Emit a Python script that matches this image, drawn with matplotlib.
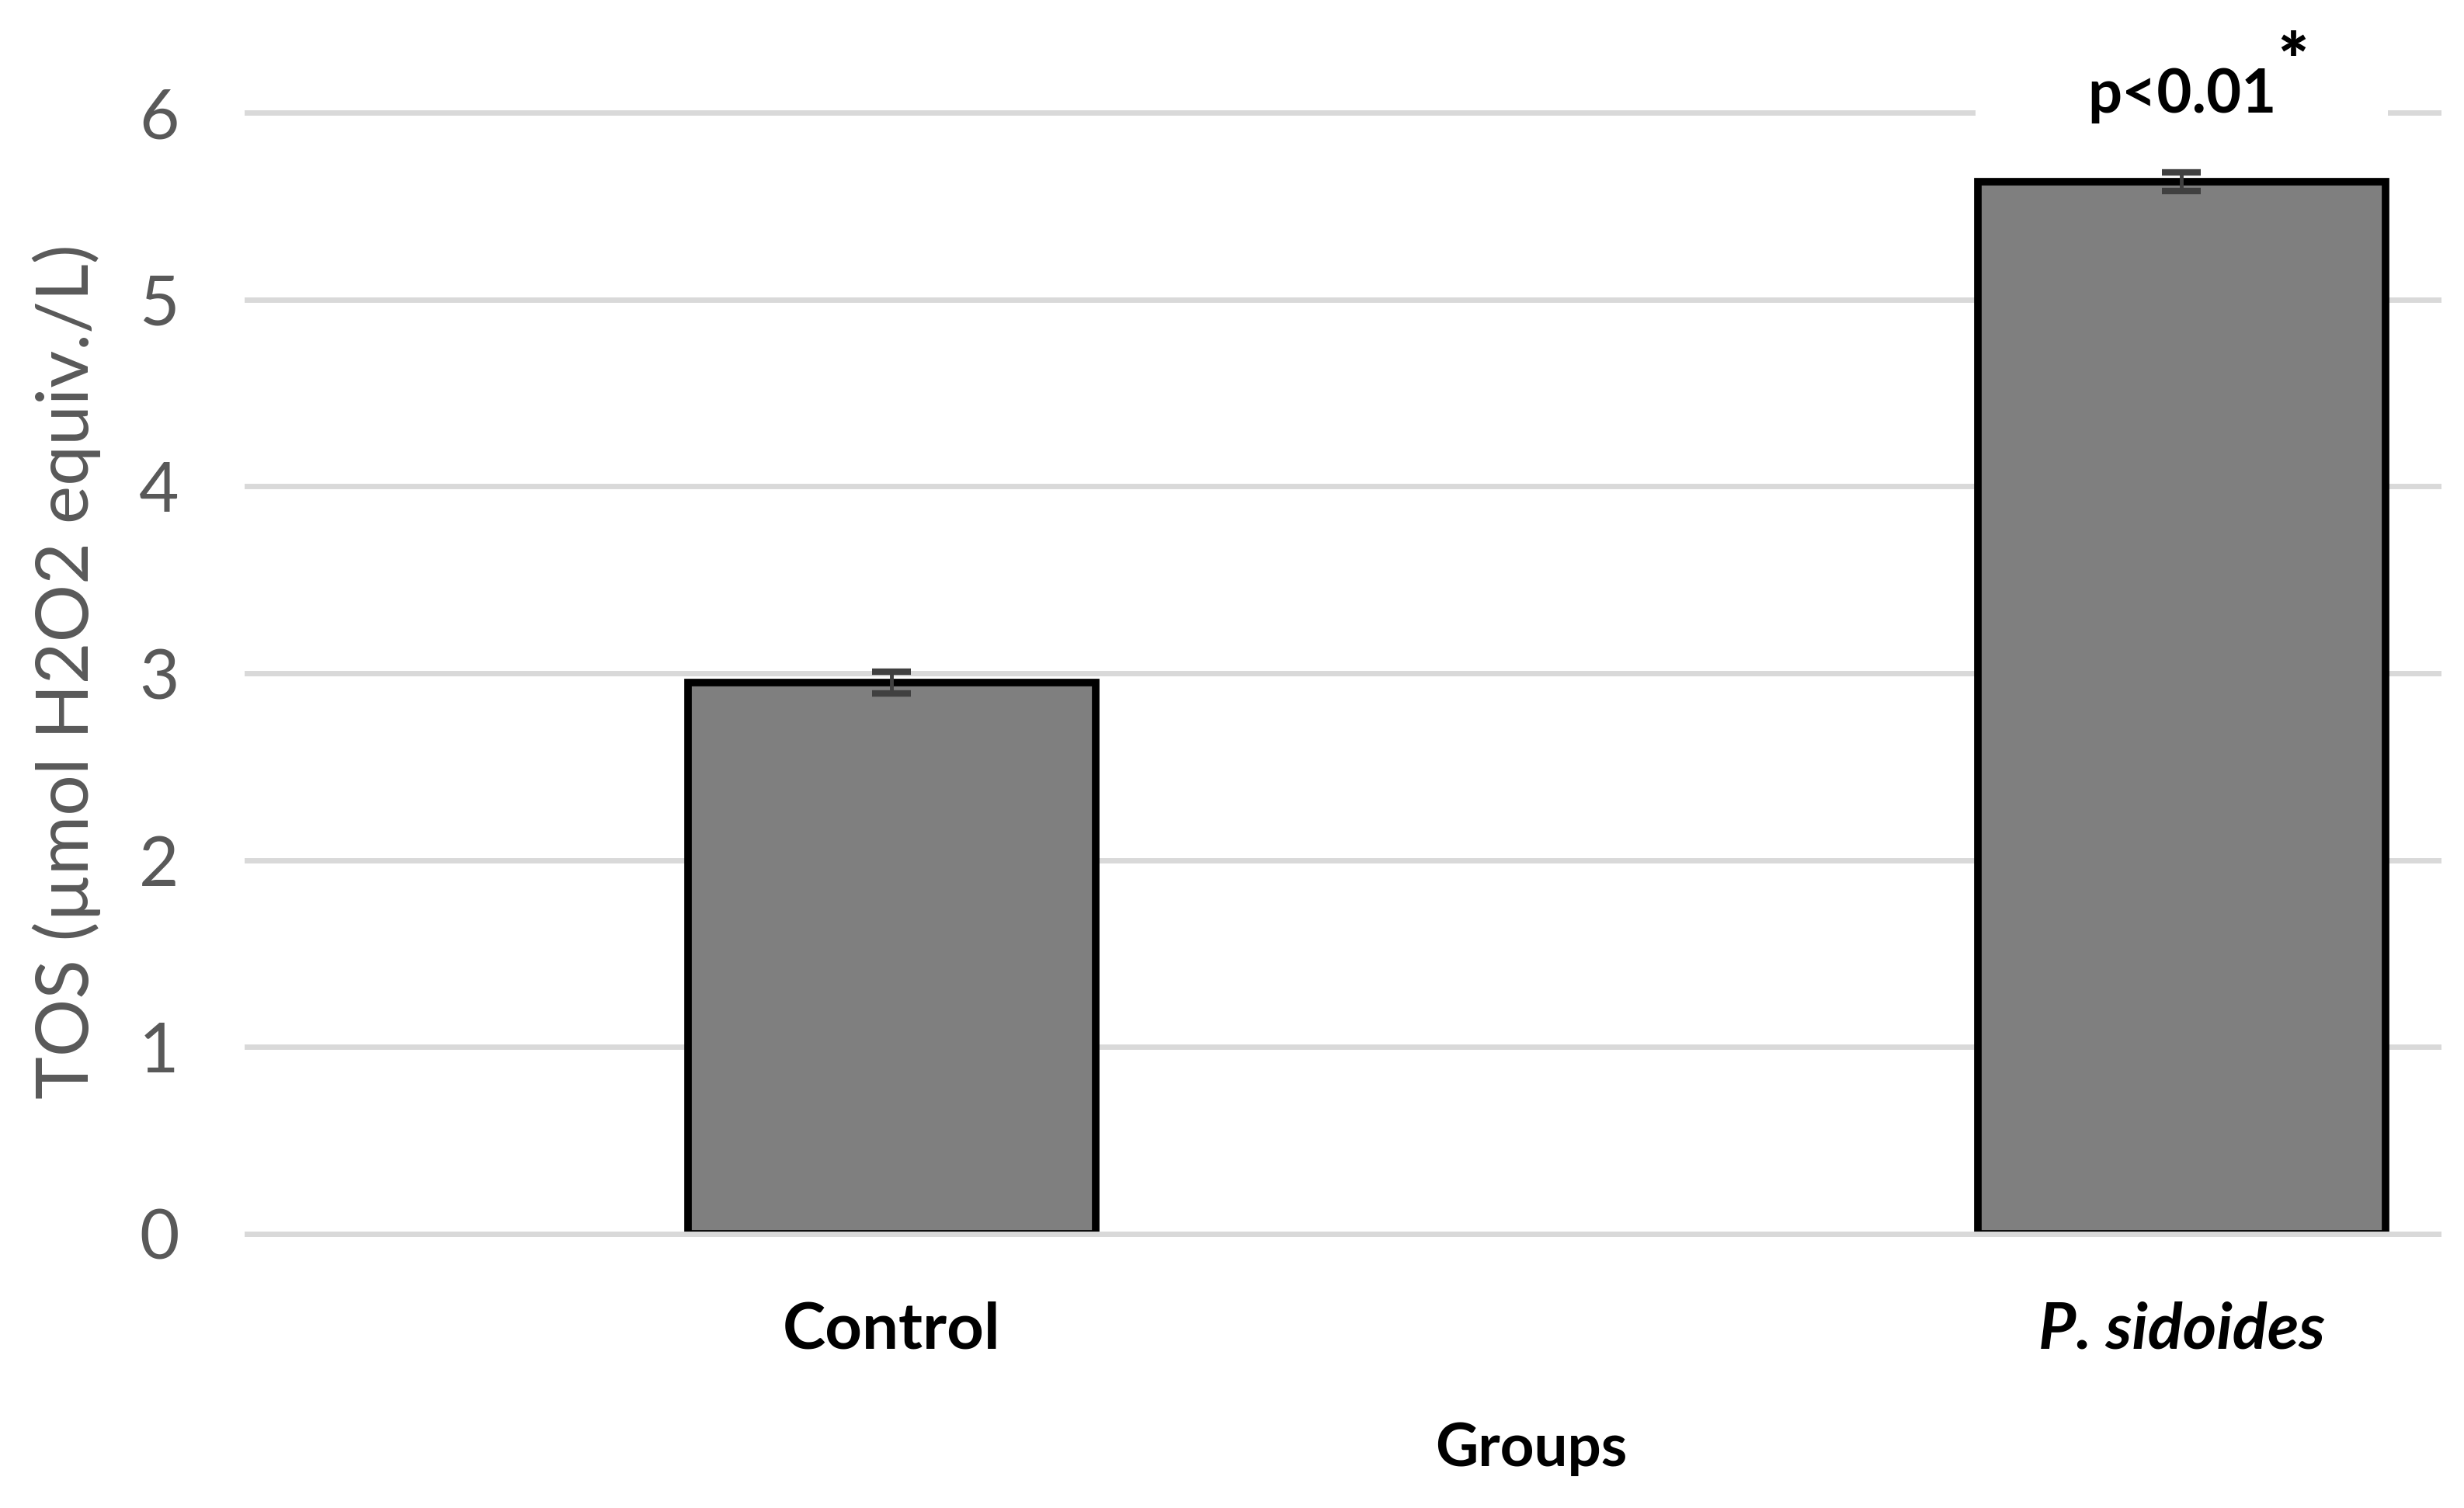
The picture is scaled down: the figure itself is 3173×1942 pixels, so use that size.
import matplotlib.pyplot as plt
import numpy as np

# Data
groups = ['Control', 'P. sidoides']
tos_mean = [2.95, 5.63]
tos_err = [0.06, 0.05]
y_ticks = [0, 1, 2, 3, 4, 5, 6]

plt.rcParams['font.family'] = ['Lato', 'DejaVu Sans']

fig = plt.figure(figsize=(31.73, 19.42), dpi=100)
ax = fig.add_axes([0.1002, 0.1818, 0.8894, 0.7435])

x = np.arange(len(groups))
ax.bar(x, tos_mean, width=0.316, color='#7f7f7f', edgecolor='black',
       linewidth=7, zorder=3)
ax.errorbar(x, tos_mean, yerr=tos_err, fmt='none', ecolor='#404040',
            elinewidth=3.5, capsize=18, capthick=6, zorder=4)

# axes, grid
ax.set_xlim(-0.5, 1.199)
ax.set_ylim(0, 6)
ax.set_yticks(y_ticks)
ax.yaxis.grid(True, color='#d9d9d9', linewidth=5)
ax.set_axisbelow(True)
for gl in ax.get_ygridlines():
    gl.set_clip_on(False)
ax.axhline(0, color='#d9d9d9', linewidth=5, zorder=5, clip_on=False)
for s in ax.spines.values():
    s.set_visible(False)
ax.tick_params(axis='y', length=0, pad=63, labelsize=64, labelcolor='#595959')
ax.tick_params(axis='x', length=0, pad=62)
ax.set_xticks(x)
ax.set_xticklabels(groups, fontsize=60, fontweight='bold')
ax.get_xticklabels()[1].set_fontstyle('italic')

# significance label, a white band hides the top gridline behind it
ax.text(x[1], 6, 'p<0.01', ha='center', va='baseline', fontsize=56,
        fontweight='bold', zorder=6)
ax.bar(x[1], 0.6, bottom=5.85, width=0.32, color='white', zorder=2,
       clip_on=False)
ax.annotate('*', xy=(x[1], 6), xytext=(103, 45), textcoords='offset points',
            ha='center', va='center', fontsize=66, fontweight='heavy', zorder=6)

fig.text(0.027, 0.5546, 'TOS (µmol H2O2 equiv./L)', rotation=90, ha='center',
         va='center', fontsize=67, color='#595959')
fig.text(0.6215, 0.0278, 'Groups', ha='center', va='baseline', fontsize=55,
         fontweight='bold')

plt.savefig('out.png', dpi=100)
